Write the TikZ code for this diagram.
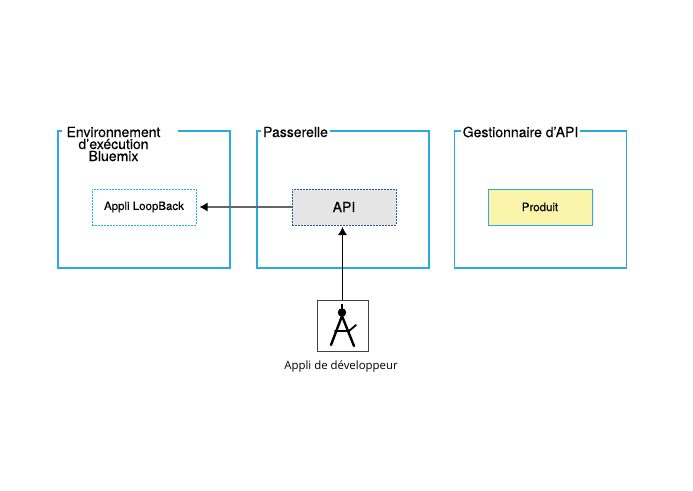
\documentclass[tikz,border=0pt]{standalone}
\usepackage{fontspec}
\setmainfont{TeX Gyre Heros}[FakeBold=0.25]
\newfontfamily\captionfont{Open Sans}
\usetikzlibrary{arrows.meta}
\definecolor{frameblue}{RGB}{41,171,226}
\definecolor{apiblue}{RGB}{40,90,140}
\definecolor{productyellow}{RGB}{250,245,170}
\tikzset{
  framebox/.style={draw=frameblue,line width=1.3pt,minimum width=172pt,minimum height=137pt,inner sep=0pt},
  framelabel/.style={fill=white,inner xsep=2pt,inner ysep=0pt,font=\fontsize{14}{12}\selectfont,align=center},
  innerbox/.style={minimum width=104pt,minimum height=36pt,inner sep=0pt,font=\fontsize{11.5}{11.5}\selectfont},
  dottedbox/.style={innerbox,line width=1pt,dash pattern=on 1.6pt off 1.4pt},
  linkarrow/.style={-{Latex[black,length=8pt,width=9pt]}}
}
\begin{document}
\begin{tikzpicture}[x=1pt,y=-1pt]
  \useasboundingbox (0,0) rectangle (693,490);
  % outer frames
  \node[framebox] (runtime) at (144,199.5) {};
  \node[framebox] (gateway) at (343,199.5) {};
  \node[framebox] (manager) at (540.5,199.5) {};
  % frame titles
  \node[framelabel,minimum width=116pt,minimum height=7pt] (runtimegap) at (120,131) {};
  \node[framelabel] (runtimetitle) at (113.5,144) {Environnement\\d’exécution\\Bluemix};
  \node[framelabel] (gatewaytitle) at (295.5,132) {Passerelle};
  \node[framelabel] (managertitle) at (520.5,132) {Gestionnaire d’API};
  % inner boxes
  \node[dottedbox,draw=frameblue] (loopback) at (144,207) {Appli LoopBack};
  \node[dottedbox,draw=apiblue,fill=black!10,font=\fontsize{14}{14}\selectfont] (api) at (344,207) {API};
  \node[innerbox,draw=frameblue,line width=1pt,fill=productyellow] (product) at (540,207) {Produit};
  % developer app
  \node[draw=black!75,line width=.8pt,minimum width=51pt,minimum height=51pt,inner sep=0pt] (devapp) at (342.5,325.5) {};
  \node[font=\captionfont\fontsize{11.4}{11.4}\selectfont,anchor=north] (devlabel) at (341,357) {Appli de développeur};
  \draw[line width=1.4pt] (342,304) -- (342,310);
  \draw[fill] (342,312.5) circle (4);
  \draw[line width=2.4pt,line cap=round] (342,316) -- (331,345);
  \draw[line width=2.4pt,line cap=round] (342,316) -- (354,346);
  \draw[line width=1.8pt,line cap=round] (335,331) -- (349,331) -- (356,325);
  % connectors
  \draw[linkarrow,black!60,line width=1.2pt,shorten >=3pt] (api) -- (loopback);
  \draw[linkarrow,black,line width=.9pt,shorten >=1.5pt] (devapp) -- (devapp |- api.south);
\end{tikzpicture}
\end{document}
